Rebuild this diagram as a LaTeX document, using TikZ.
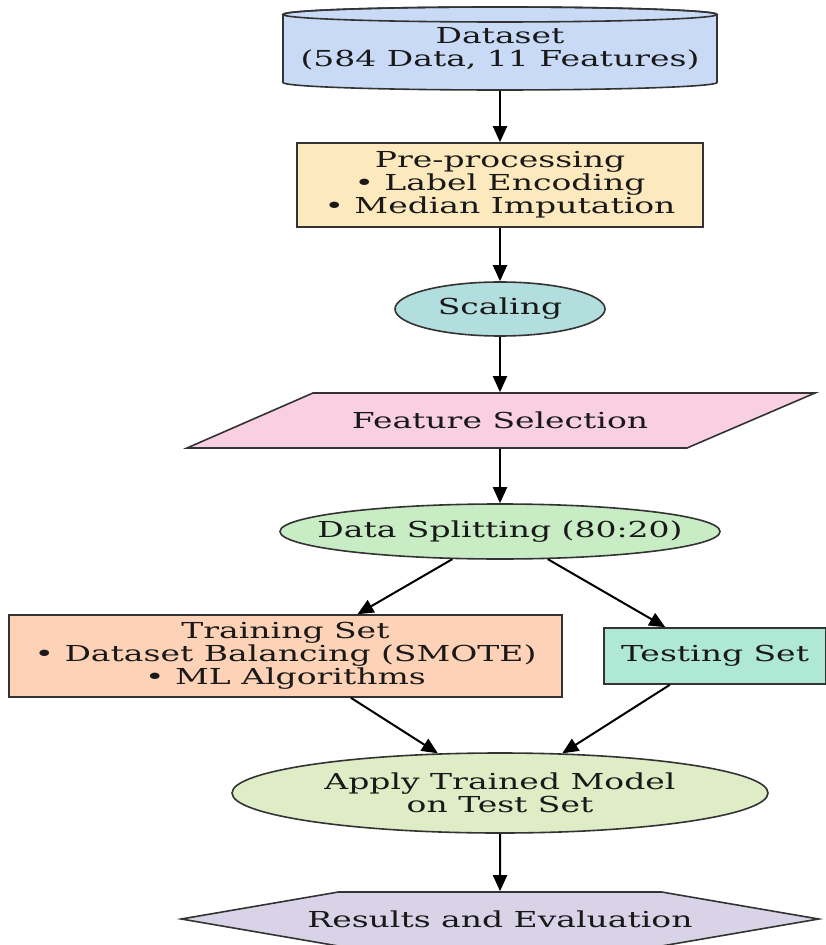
\documentclass[tikz,border=0pt]{standalone}
\usepackage{xcolor}
\usepackage{fontspec}
\setmainfont{DejaVu Serif}[FakeStretch=1.5]
\usepackage{tikz}
\usetikzlibrary{math,shapes.geometric,shapes.symbols,arrows.meta}

\definecolor{cdata}{RGB}{201,218,247}
\definecolor{cprep}{RGB}{253,233,190}
\definecolor{cscal}{RGB}{178,222,222}
\definecolor{cfeat}{RGB}{249,208,226}
\definecolor{csplit}{RGB}{200,236,196}
\definecolor{ctrain}{RGB}{253,210,182}
\definecolor{ctest}{RGB}{176,232,214}
\definecolor{capply}{RGB}{222,237,198}
\definecolor{cres}{RGB}{217,211,231}

\begin{document}
\begin{tikzpicture}[x=0.5pt,y=-0.5pt,
	every node/.style={draw=black!80,line width=0.8pt,text=black!90,align=center,
		inner sep=0pt,font=\fontsize{11}{11.5}\selectfont},
	edge line/.style={draw=black!80,line width=0.8pt},
	arr/.style={-{Triangle[length=8pt,width=7pt]},line width=1pt}]
\useasboundingbox (0,0) rectangle (825,945);
\tikzmath{
	\mx = 500;\rx = 217;\ry = 7.5;
	\ctop = 14.5;\cbot = 82.5;
	{\draw[edge line,fill=cdata] (\mx-\rx,\ctop) -- (\mx-\rx,\cbot)
		arc[start angle=180,end angle=0,x radius=\rx,y radius=\ry]
		-- (\mx+\rx,\ctop) arc[start angle=0,end angle=-180,x radius=\rx,y radius=\ry] -- cycle;};
	{\draw[edge line] (\mx,\ctop) ellipse[x radius=\rx,y radius=\ry];};
	{\node[rectangle,draw=none,minimum width=217pt,minimum height=41.5pt] (data) at (\mx,48.5)
		{Dataset\\(584 Data, 11 Features)};};
	{\node[rectangle,fill=cprep,minimum width=203pt,minimum height=42pt] (prep) at (\mx,185)
		{Pre-processing\\• Label Encoding\\• Median Imputation};};
	{\node[ellipse,fill=cscal,minimum width=105pt,minimum height=27pt] (scal) at (\mx,309)
		{Scaling};};
	%
	{\draw[edge line,fill=cfeat]
		(313,393) -- (815,393) -- (687,448) -- (187,448) -- cycle;};
	{\node[rectangle,draw=none,minimum width=251pt,minimum height=27.5pt]
		(feat) at (\mx,420.5) {Feature Selection};};
	{\node[ellipse,fill=csplit,inner xsep=-14pt,minimum width=220pt,minimum height=27.5pt]
		(split) at (\mx,531.5) {Data Splitting (80:20)};};
	%
	{\node[rectangle,fill=ctrain,minimum width=276.5pt,minimum height=41pt] (train) at (285.5,656)
		{Training Set\\• Dataset Balancing (SMOTE)\\• ML Algorithms};};
	{\node[rectangle,fill=ctest,minimum width=111pt,minimum height=28pt] (test) at (715,656)
		{Testing Set};};
	{\node[ellipse,fill=capply,minimum width=268pt,minimum height=40pt] (apply) at (\mx,793)
		{Apply Trained Model\\on Test Set};};
	{\node[signal,signal to=west and east,signal pointer angle=19.5,fill=cres,
		inner xsep=-15.5pt,minimum height=27pt] (res) at (\mx,919)
		{Results and Evaluation};};
};
% edges
\draw[arr] (data) -- (prep);
\draw[arr] (prep) -- (scal);
\draw[arr] (scal) -- (feat);
\draw[arr] (feat) -- (split);
\draw[arr] (split) -- (train);
\draw[arr] (split) -- (test);
\draw[arr] (train) -- (apply);
\draw[arr] (test) -- (apply);
\draw[arr] (apply) -- (res);
\end{tikzpicture}
\end{document}
